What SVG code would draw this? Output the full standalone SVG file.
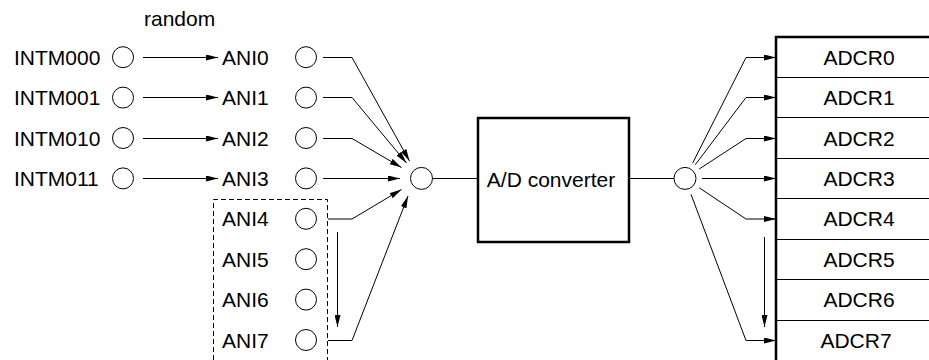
<svg xmlns="http://www.w3.org/2000/svg" width="929" height="360" viewBox="0 0 929 360">
<defs>
<style>
text{font-family:"Liberation Sans",Arial,Helvetica,sans-serif;font-size:21px;fill:#000}
.c{fill:#fff;stroke:#000;stroke-width:1}
.l{fill:none;stroke:#000;stroke-width:1}
.a{fill:none;stroke:#000;stroke-width:1;marker-end:url(#ah)}
.box{fill:#fff;stroke:#000;stroke-width:2.5}
.d{fill:none;stroke:#000;stroke-width:1;stroke-dasharray:5,3}
.m{text-anchor:middle}
</style>
<marker id="ah" markerUnits="userSpaceOnUse" markerWidth="12" markerHeight="6" refX="12" refY="3" orient="auto">
<path d="M0,0 L12,3 L0,6 z" fill="#000"/>
</marker>
</defs>
<rect width="929" height="360" fill="#fff"/>
<text x="144" y="26">random</text>
<g id="intm000"><text x="14" y="64.7">INTM000</text><circle class="c" cx="123" cy="57.2" r="10.5"/></g>
<g id="intm001"><text x="14" y="105.1">INTM001</text><circle class="c" cx="123" cy="97.6" r="10.5"/></g>
<g id="intm010"><text x="14" y="145.5">INTM010</text><circle class="c" cx="123" cy="138" r="10.5"/></g>
<g id="intm011"><text x="14" y="185.9">INTM011</text><circle class="c" cx="123" cy="178.4" r="10.5"/></g>
<g id="ani0"><text x="222" y="64.7">ANI0</text><circle class="c" cx="306" cy="57.2" r="10.5"/></g>
<g id="ani1"><text x="222" y="105.1">ANI1</text><circle class="c" cx="306" cy="97.6" r="10.5"/></g>
<g id="ani2"><text x="222" y="145.5">ANI2</text><circle class="c" cx="306" cy="138" r="10.5"/></g>
<g id="ani3"><text x="222" y="185.9">ANI3</text><circle class="c" cx="306" cy="178.4" r="10.5"/></g>
<g id="ani-group"><path class="d" d="M213.5,360 V199.5 H327.5 V360"/></g>
<g id="ani4"><text x="222" y="226.3">ANI4</text><circle class="c" cx="306" cy="218.8" r="10.5"/></g>
<g id="ani5"><text x="222" y="266.7">ANI5</text><circle class="c" cx="306" cy="259.2" r="10.5"/></g>
<g id="ani6"><text x="222" y="307.1">ANI6</text><circle class="c" cx="306" cy="299.6" r="10.5"/></g>
<g id="ani7"><text x="222" y="347.5">ANI7</text><circle class="c" cx="306" cy="340" r="10.5"/></g>
<g id="mux"><circle class="c" cx="421.5" cy="178.4" r="11"/></g>
<g id="adc"><rect class="box" x="478" y="118" width="151" height="124"/><text class="m" x="551" y="187">A/D converter</text></g>
<g id="demux"><circle class="c" cx="685" cy="178.4" r="11"/></g>
<g id="adcr">
<rect x="776" y="37" width="170" height="330" fill="#fff" stroke="none"/>
<path class="l" d="M776,77.5 H929 M776,117.5 H929 M776,158.5 H929 M776,198.5 H929 M776,239.5 H929 M776,279.5 H929 M776,320.5 H929"/>
<path fill="none" stroke="#000" stroke-width="2.5" d="M776,361 V37 H929"/>
<text class="m" x="859" y="64.7">ADCR0</text>
<text class="m" x="859" y="105.1">ADCR1</text>
<text class="m" x="859" y="145.5">ADCR2</text>
<text class="m" x="859" y="185.9">ADCR3</text>
<text class="m" x="859" y="226.3">ADCR4</text>
<text class="m" x="859" y="266.7">ADCR5</text>
<text class="m" x="859" y="307.1">ADCR6</text>
<text class="m" x="856" y="347.5">ADCR7</text>
</g>
<g id="connectors">
<path class="a" d="M143,57.5 H218"/>
<path class="a" d="M143,97.5 H218"/>
<path class="a" d="M143,138.5 H218"/>
<path class="a" d="M143,178.5 H218"/>
<path class="a" d="M323,57.5 H352 L409.5,161"/>
<path class="a" d="M323,97.5 H352 L406.5,163"/>
<path class="a" d="M323,138.5 H352 L401.5,167.5"/>
<path class="a" d="M323,178.5 H400"/>
<path class="a" d="M328,219 H352 L401.5,189.5"/>
<path class="a" d="M328,340.5 H352 L408,196"/>
<path class="a" d="M337.5,232 V327"/>
<path class="l" d="M432.5,178.5 H478"/>
<path class="l" d="M629,178.5 H674"/>
<path class="a" d="M692.6,163.2 L746,57.5 H776"/>
<path class="a" d="M695.2,164.8 L746,97.5 H776"/>
<path class="a" d="M699.2,169 L746,138.5 H776"/>
<path class="a" d="M702,178.5 H776"/>
<path class="a" d="M699.2,187.8 L746,219 H776"/>
<path class="a" d="M691,194.3 L746,340.5 H776"/>
<path class="a" d="M764.5,237 V327"/>
</g>
</svg>
